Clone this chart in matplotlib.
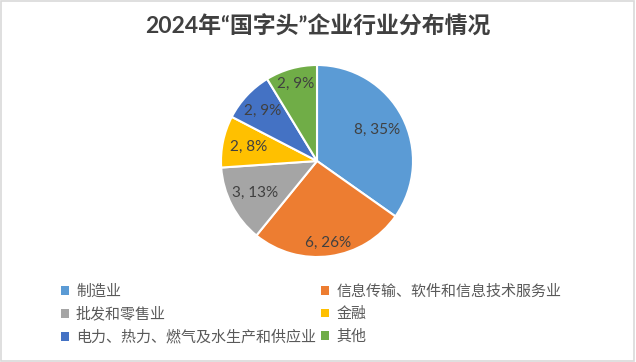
import matplotlib
matplotlib.use("Agg")
import matplotlib.pyplot as plt
from matplotlib.patches import Rectangle, Patch
import numpy as np

plt.rcParams['font.family'] = ['Noto Sans CJK SC', 'DejaVu Sans']

title = "2024年“国字头”企业行业分布情况"
categories = ["制造业", "信息传输、软件和信息技术服务业", "批发和零售业", "金融",
              "电力、热力、燃气及水生产和供应业", "其他"]
counts = [8, 6, 3, 2, 2, 2]
pct_labels = ["35%", "26%", "13%", "8%", "9%", "9%"]
colors = ["#5B9BD5", "#ED7D31", "#A5A5A5", "#FFC000", "#4472C4", "#70AD47"]
label_radius = [0.71, 0.86, 0.73, 0.73, 0.77, 0.83]

W, H = 636, 362
fig = plt.figure(figsize=(W / 100, H / 100), dpi=100)
fig.patch.set_facecolor("white")

cx, cy, R = 317, 161, 96
ax = fig.add_axes([(cx - R) / W, (H - cy - R) / H, 2 * R / W, 2 * R / H])
wedges, _ = ax.pie(counts, colors=colors, startangle=90, counterclock=False,
                   radius=1, wedgeprops=dict(edgecolor="white", linewidth=1.5))
ax.set_xlim(-1, 1)
ax.set_ylim(-1, 1)
ax.set_axis_off()

for w, c, p, rr in zip(wedges, counts, pct_labels, label_radius):
    ang = np.deg2rad((w.theta1 + w.theta2) / 2)
    ax.text(rr * np.cos(ang), rr * np.sin(ang), f"{c}, {p}", ha="center", va="center",
            fontsize=11, color="#404040", family=["Lato", "DejaVu Sans"])

fig.text(0.5, 1 - 27 / H, title, ha="center", va="center", fontsize=16.5,
         fontweight="bold", color="#404040",
         family=["Lato", "Noto Sans CJK SC", "DejaVu Sans"])

order = [0, 2, 4, 1, 3, 5]
handles = [Patch(facecolor=colors[i], edgecolor="none") for i in order]
labels = [categories[i] for i in order]
leg = fig.legend(handles, labels, ncol=2, loc="upper left",
                 bbox_to_anchor=(61 / W, 1 - 284.5 / H), frameon=False,
                 fontsize=10.8, handlelength=0.5, handleheight=0.5,
                 handletextpad=0.5, columnspacing=0.35, labelspacing=0.55,
                 borderpad=0, borderaxespad=0)
for t in leg.get_texts():
    t.set_color("#595959")

fig.add_artist(Rectangle((0.5 / W, 1.5 / H), (W - 3) / W, (H - 2.5) / H,
                         transform=fig.transFigure, fill=False,
                         edgecolor="#D9D9D9", linewidth=1.2))

fig.savefig("out.png", dpi=100, facecolor="white")
